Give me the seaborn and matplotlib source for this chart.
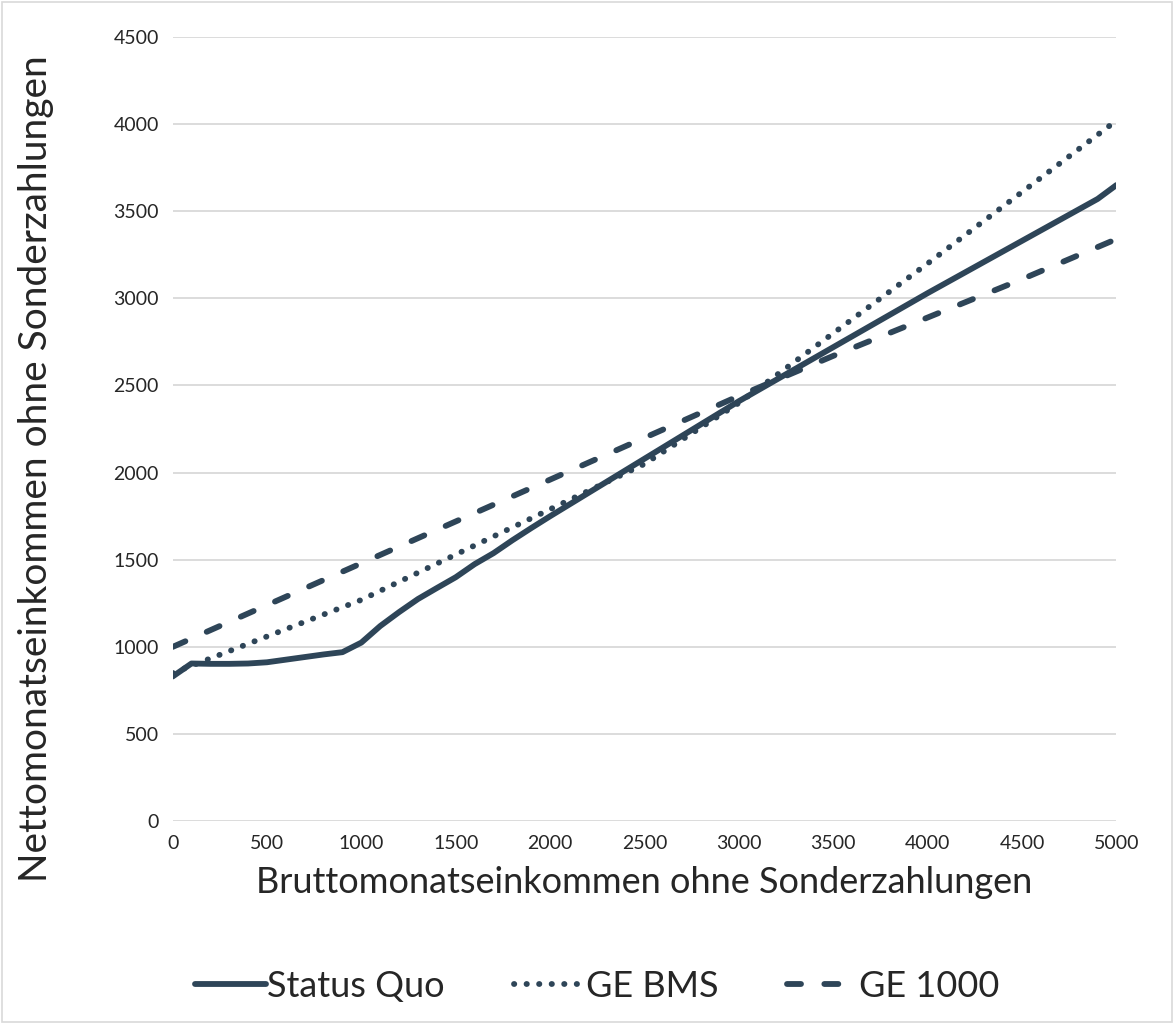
import matplotlib
matplotlib.use("Agg")
import matplotlib.pyplot as plt
import seaborn as sns

# Bruttoeinkommen (x) und Nettoeinkommen je Szenario
x_sq = [0, 100, 200, 300, 400, 500, 600, 700, 800, 900, 1000, 1100, 1200, 1300, 1400,
        1500, 1600, 1700, 1800, 1900, 2000, 2500, 3000, 3500, 4000, 4500, 4900, 5000]
status_quo = [830, 905, 903, 903, 905, 912, 927, 942, 957, 970, 1025, 1120, 1200, 1275, 1338,
              1400, 1475, 1538, 1612, 1682, 1750, 2080, 2410, 2720, 3030, 3330, 3570, 3650]

x_bms = [0, 500, 1000, 1500, 2000, 2500, 3000, 3500, 4000, 4500, 5000]
ge_bms = [850, 1060, 1270, 1530, 1790, 2050, 2400, 2800, 3200, 3610, 4020]

x_ge = [0, 500, 1000, 1500, 2000, 2500, 3000, 3500, 4000, 4500, 5000]
ge_1000 = [1000, 1240, 1480, 1720, 1960, 2200, 2440, 2670, 2890, 3110, 3340]

color = "#2E4558"

sns.set_theme(style="white")
plt.rcParams['font.family'] = ['Lato', 'DejaVu Sans']

fig = plt.figure(figsize=(11.74, 10.24), dpi=100)
ax = fig.add_axes([0.147, 0.198, 0.804, 0.766])

lw = 4.2
sns.lineplot(x=x_sq, y=status_quo, ax=ax, color=color, lw=lw, label="Status Quo",
             solid_capstyle="round")
sns.lineplot(x=x_bms, y=ge_bms, ax=ax, color=color, lw=lw, label="GE BMS",
             linestyle=(0, (0.05, 2.1)), dash_capstyle="round")
sns.lineplot(x=x_ge, y=ge_1000, ax=ax, color=color, lw=lw, label="GE 1000",
             linestyle=(0, (2.4, 4.0)), dash_capstyle="round")

ax.set_xlim(0, 5000)
ax.set_ylim(0, 4500)
ax.set_xticks(range(0, 5001, 500))
ax.set_yticks(range(0, 4501, 500))
ax.tick_params(axis="both", labelsize=14, length=0, pad=10)
ax.yaxis.grid(True, color="#D9D9D9", lw=1.3)
ax.set_axisbelow(True)
for s in ax.spines.values():
    s.set_visible(False)

ax.set_xlabel("Bruttomonatseinkommen ohne Sonderzahlungen", fontsize=26, labelpad=10)
ax.set_ylabel("Nettomonatseinkommen ohne Sonderzahlungen", fontsize=28)
ax.yaxis.set_label_coords(-0.126, 0.45)

leg = ax.legend(loc="upper center", bbox_to_anchor=(0.45, -0.148), ncol=3, frameon=False,
                fontsize=26, handlelength=1.95, handletextpad=0.05, columnspacing=1.9)

border = plt.Rectangle((0.002, 0.002), 0.996, 0.996, transform=fig.transFigure,
                       fill=False, edgecolor="#D9D9D9", lw=1.2)
fig.patches.append(border)

fig.savefig("out.png", dpi=100)
